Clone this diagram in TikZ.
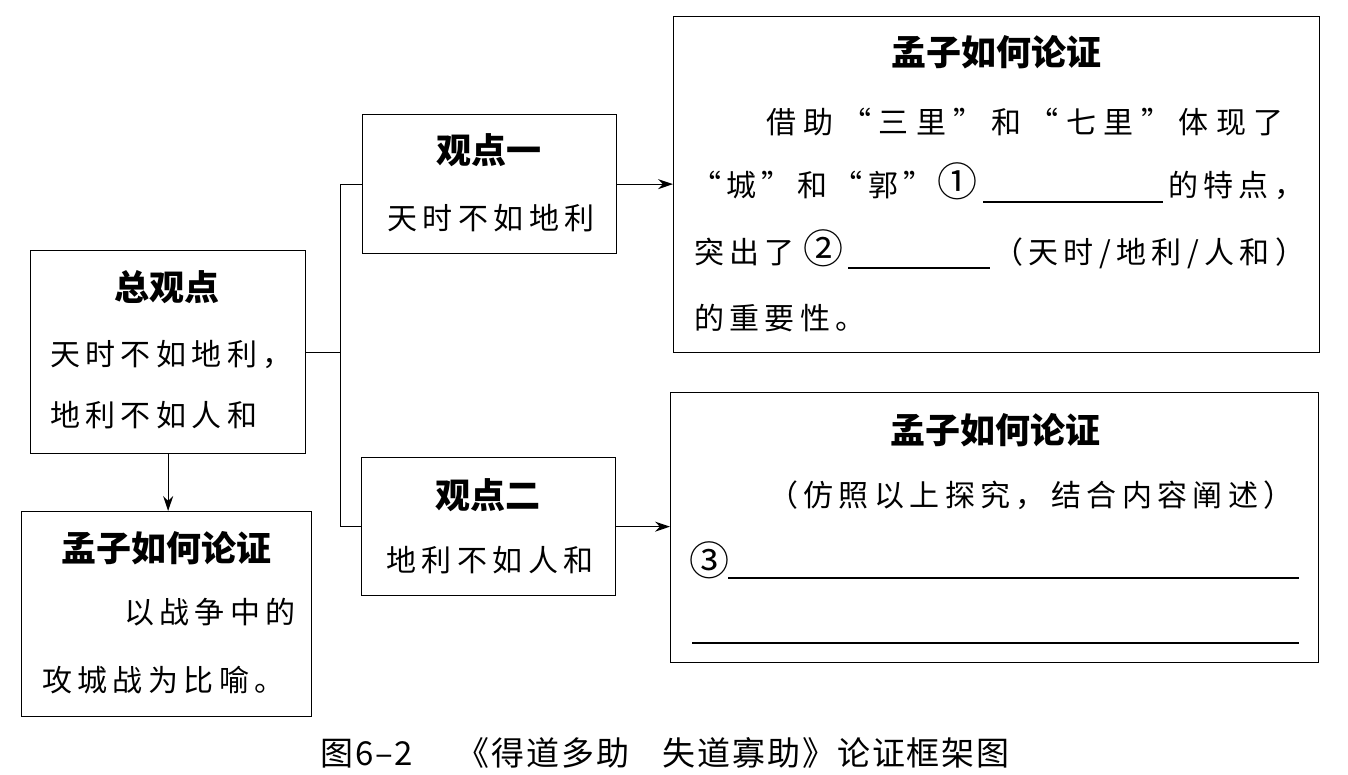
\documentclass[tikz,border=0pt]{standalone}
\usepackage{fontspec}
\usetikzlibrary{arrows.meta}
\newfontfamily\bodyfont[LetterSpace=18]{Noto Sans CJK SC}
\newfontfamily\headfont{Noto Sans CJK SC}
\newfontfamily\capfont[LetterSpace=6]{Noto Sans CJK SC}
\newcommand\cnum[1]{{\fontsize{40pt}{40pt}\selectfont #1}}

\begin{document}
\begin{tikzpicture}[x=1pt, y=-1pt,
    box/.style={draw, line width=1.3pt, inner sep=0pt, anchor=north west},
    title/.style={font=\headfont\bfseries\fontsize{35pt}{40pt}\selectfont, anchor=base, inner sep=0pt},
    body/.style={font=\bodyfont\fontsize{30pt}{36pt}\selectfont, anchor=base west, inner sep=0pt},
    caption/.style={font=\capfont\fontsize{33pt}{38pt}\selectfont, anchor=base, inner sep=0pt},
    link/.style={line width=1.3pt},
    arr/.style={line width=1.3pt, -{Stealth[length=15pt, width=10pt]}},
    blank/.style={line width=1.2pt}]

    \useasboundingbox[fill=white] (0,0) rectangle (1348,774);

    % Left column
    \node[box, minimum width=275pt, minimum height=203pt] (zong) at (30,250) {};
    \node[title] (zongT) at (167,300) {总观点};
    \node[body] (zongA) at (50,365) {天时不如地利，};
    \node[body] (zongB) at (50,426) {地利不如人和};

    \node[box, minimum width=290pt, minimum height=205pt] (lunz) at (21,511) {};
    \node[title] (lunzT) at (166,561) {孟子如何论证};
    \node[body, anchor=base east] (lunzA) at (296,623) {以战争中的};
    \node[body] (lunzB) at (42,691) {攻城战为比喻。};

    % Middle column
    \node[box, minimum width=254pt, minimum height=139pt] (yi) at (362,114) {};
    \node[title] (yiT) at (489,163) {观点一};
    \node[body, anchor=base] (yiA) at (491,229) {天时不如地利};

    \node[box, minimum width=254pt, minimum height=138pt] (er) at (361,457) {};
    \node[title] (erT) at (488,508) {观点二};
    \node[body, anchor=base] (erA) at (490,571) {地利不如人和};

    % Right column, top
    \node[box, minimum width=646pt, minimum height=336pt] (lunyi) at (673,16) {};
    \node[title] (lunyiT) at (996,65) {孟子如何论证};
    \node[body] (lunyiA) at (766,133) {\addfontfeature{LetterSpace=25}借助“三里”和“七里”体现了};
    \node[body] (lunyiB) at (691,196) {“城”和“郭”\hspace{4pt}\cnum{①}};
    \node[body] (lunyiC) at (1168,196) {的特点，};
    \node[body] (lunyiD) at (694,263) {突出了\hspace{8pt}\cnum{②}};
    \node[body] (lunyiE) at (993,263) {（天时/地利/人和）};
    \node[body] (lunyiF) at (694,329) {的重要性。};
    \draw[blank] (983,202) -- (1163,202);
    \draw[blank] (848,268) -- (990,268);

    % Right column, bottom
    \node[box, minimum width=648pt, minimum height=270pt] (luner) at (670,392) {};
    \node[title] (lunerT) at (995,443) {孟子如何论证};
    \node[body] (lunerA) at (768,506) {（仿照以上探究，结合内容阐述）};
    \node[body] (lunerB) at (689,575) {\cnum{③}};
    \draw[blank] (728,578) -- (1299,578);
    \draw[blank] (692,643) -- (1299,643);

    % Connectors
    \path (zong.east) ++(34,0) coordinate (fork);
    \draw[link] (zong.east) -- (fork);
    \draw[link] (yi.west) -| (fork) |- (er.west);
    \draw[arr] (yi.east) -- (yi.east -| lunyi.west);
    \draw[arr] (er.east) -- (er.east -| luner.west);
    \draw[arr] (zong.south) -- (zong.south |- lunz.north);

    % Caption
    \node[caption] (cap) at (665,765) {图6–2\hspace{1.3em}《得道多助\hspace{1em}失道寡助》论证框架图};
\end{tikzpicture}
\end{document}
